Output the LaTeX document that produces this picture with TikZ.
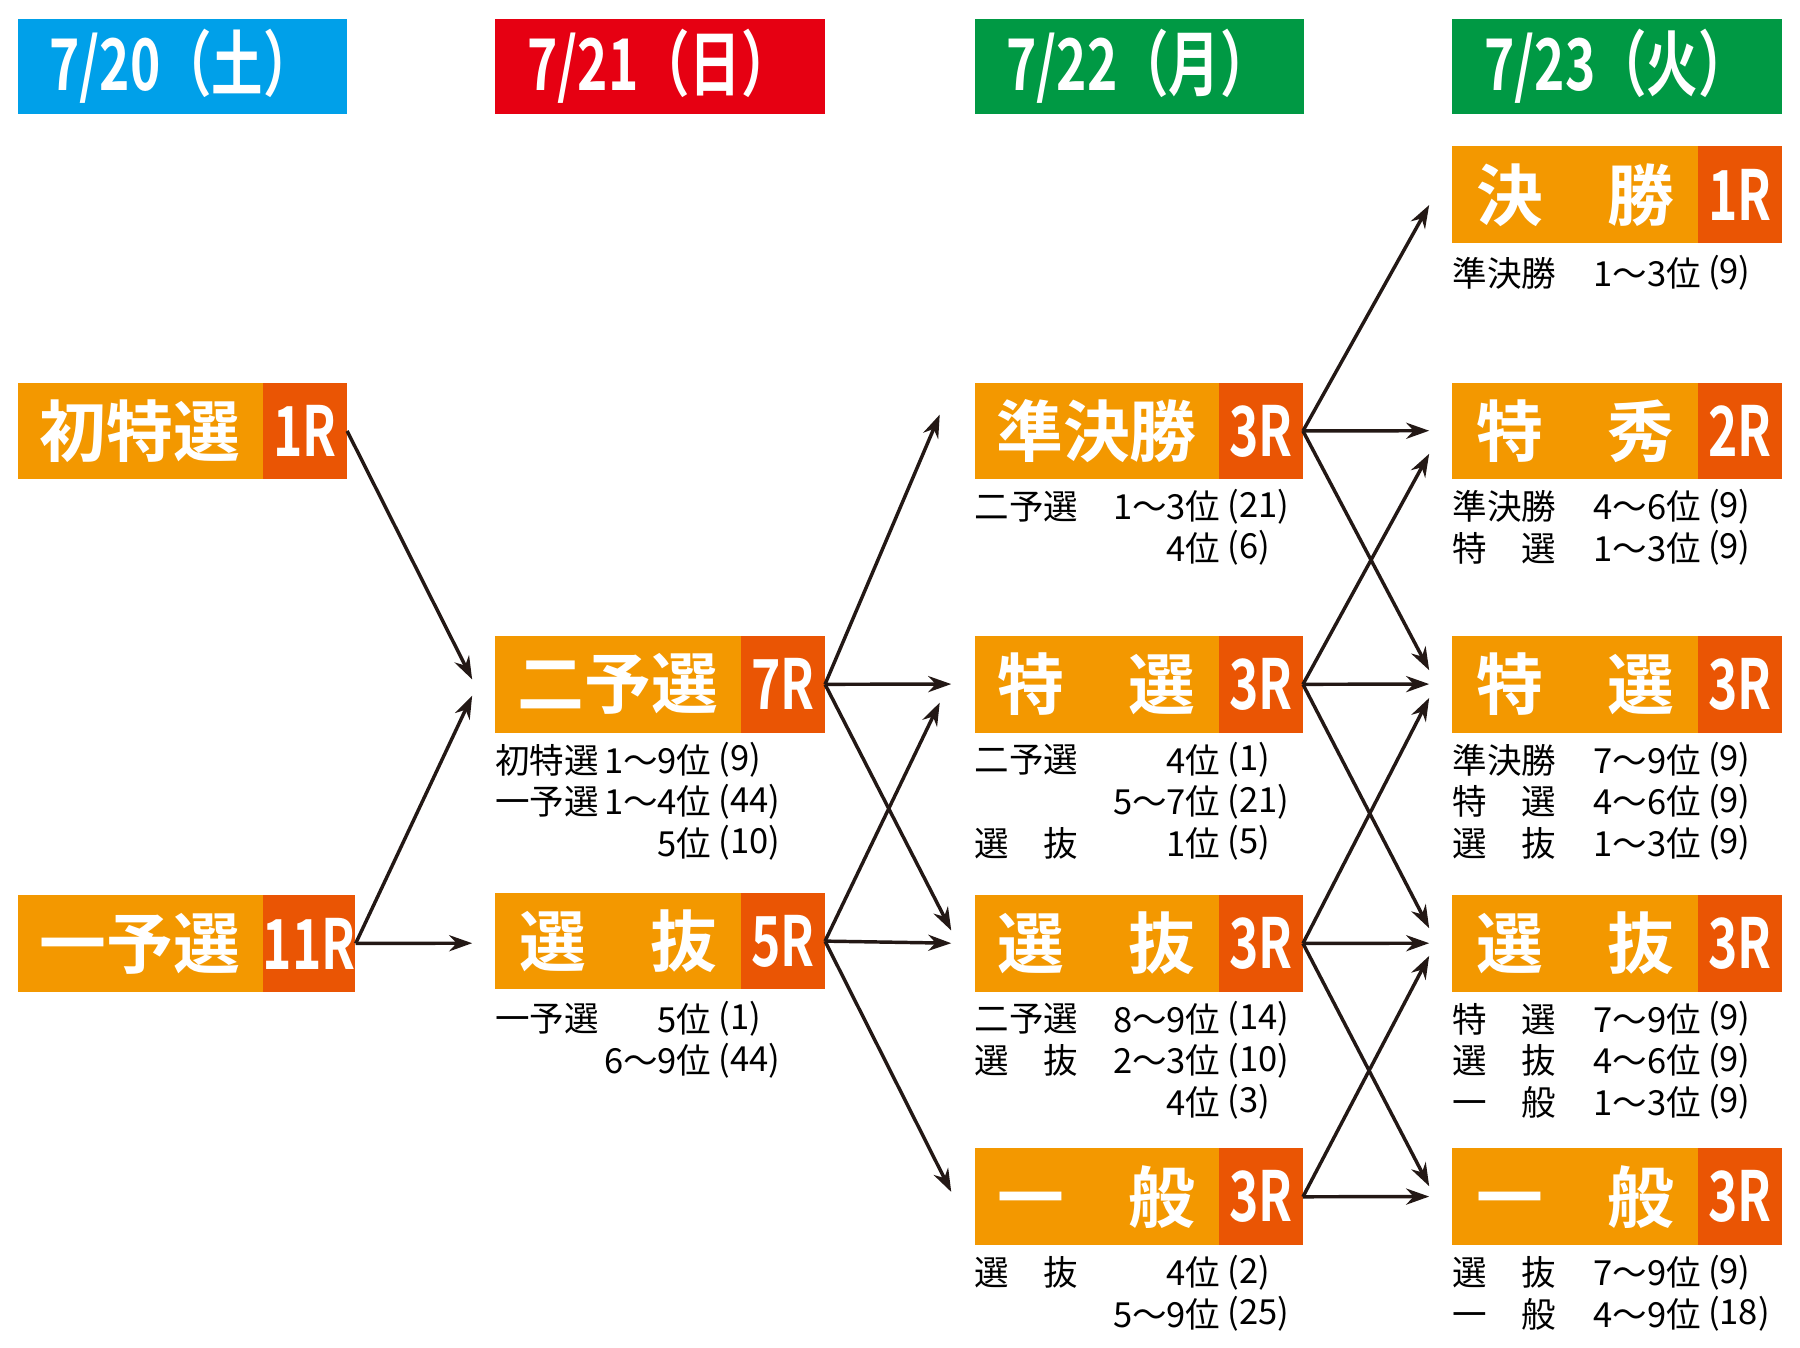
\documentclass[tikz,border=0pt]{standalone}
\usepackage{fontspec}
\usepackage{graphicx}
\usetikzlibrary{arrows.meta}
\setmainfont{Noto Sans CJK JP}
\newfontfamily\cjkb{Noto Sans CJK JP}[BoldFont=* Bold]
\definecolor{hblue}{HTML}{00A0E9}
\definecolor{hred}{HTML}{E60012}
\definecolor{hgreen}{HTML}{009944}
\definecolor{orj}{HTML}{F39800}
\definecolor{dor}{HTML}{EA5504}
\tikzset{
 hdr/.style={anchor=north west,minimum width=286pt,minimum height=83pt,inner sep=0,text=white,font=\cjkb\bfseries\fontsize{62}{62}\selectfont},
 lab/.style={anchor=north west,fill=orj,minimum height=84pt,inner sep=0,text=white,font=\cjkb\bfseries\fontsize{58}{58}\selectfont},
 rr/.style={anchor=north west,fill=dor,minimum width=73pt,minimum height=84pt,inner sep=0,text=white,font=\cjkb\bfseries\fontsize{60}{60}\selectfont},
 sub/.style={inner sep=0,font=\fontsize{30}{30}\selectfont},
 arr/.style={line width=3pt,draw={rgb,255:red,35;green,24;blue,21},-{Stealth[length=20pt,width=14pt]}}
}
% #1 name, #2 x, #3 y, #4 label, #5 R, #6 label width
\newcommand\race[6]{%
 \node[lab,minimum width=#6pt] (#1) at (#2,#3) {#4};
 \node[rr] (#1R) at ([xshift=#6pt]#2,#3) {\scalebox{0.72}[1]{#5}};
}
\newcommand\cond[1]{\scalebox{0.8}[1]{#1}}
% x0, y, rank-right-offset, label, rank, count
\newcommand\subl[6]{%
 \node[sub,anchor=west] at (#1,#2) {#4};
 \node[sub,anchor=east] at ([xshift=#3pt]#1,#2) {#5};
 \node[sub,anchor=west] at ([xshift=#3pt+6pt]#1,#2) {#6};
}
\begin{document}
\begin{tikzpicture}[x=1pt,y=-1pt]
\useasboundingbox (0,0) rectangle (1563,1170);
\node[hdr,fill=hblue] (h1) at (15,16) {\scalebox{0.72}[1]{7/20（土）}};
\node[hdr,fill=hred] (h2) at (430,16) {\scalebox{0.72}[1]{7/21（日）}};
\node[hdr,fill=hgreen] (h3) at (846,16) {\scalebox{0.72}[1]{7/22（月）}};
\node[hdr,fill=hgreen] (h4) at (1261,16) {\scalebox{0.72}[1]{7/23（火）}};

\race{a1}{15}{332}{初特選}{1R}{213}
\race{a2}{15}{777}{一予選}{11R}{213}
\race{b1}{430}{552}{二予選}{7R}{213}
\race{b2}{430}{775}{\makebox[172pt]{選\hfill 抜}}{5R}{213}
\race{c1}{846}{332}{準決勝}{3R}{212}
\race{c2}{846}{552}{\makebox[172pt]{特\hfill 選}}{3R}{212}
\race{c3}{846}{777}{\makebox[172pt]{選\hfill 抜}}{3R}{212}
\race{c4}{846}{997}{\makebox[172pt]{一\hfill 般}}{3R}{212}
\race{d0}{1261}{127}{\makebox[172pt]{決\hfill 勝}}{1R}{213}
\race{d1}{1261}{332}{\makebox[172pt]{特\hfill 秀}}{2R}{213}
\race{d2}{1261}{552}{\makebox[172pt]{特\hfill 選}}{3R}{213}
\race{d3}{1261}{777}{\makebox[172pt]{選\hfill 抜}}{3R}{213}
\race{d4}{1261}{997}{\makebox[172pt]{一\hfill 般}}{3R}{213}

% sub texts
\subl{430}{660}{188}{初特選}{1～9位}{(9)}
\subl{430}{696}{188}{一予選}{1～4位}{(44)}
\subl{430}{732}{188}{}{5位}{(10)}
\subl{430}{885}{188}{一予選}{5位}{(1)}
\subl{430}{921}{188}{}{6～9位}{(44)}

\subl{846}{440}{214}{二予選}{1～3位}{(21)}
\subl{846}{476}{214}{}{4位}{(6)}
\subl{846}{660}{214}{二予選}{4位}{(1)}
\subl{846}{696}{214}{}{5～7位}{(21)}
\subl{846}{732}{214}{選\hspace{30pt}抜}{1位}{(5)}
\subl{846}{885}{214}{二予選}{8～9位}{(14)}
\subl{846}{921}{214}{選\hspace{30pt}抜}{2～3位}{(10)}
\subl{846}{957}{214}{}{4位}{(3)}
\subl{846}{1105}{214}{選\hspace{30pt}抜}{4位}{(2)}
\subl{846}{1141}{214}{}{5～9位}{(25)}

\subl{1261}{237}{216}{準決勝}{1～3位}{(9)}
\subl{1261}{440}{216}{準決勝}{4～6位}{(9)}
\subl{1261}{476}{216}{特\hspace{30pt}選}{1～3位}{(9)}
\subl{1261}{660}{216}{準決勝}{7～9位}{(9)}
\subl{1261}{696}{216}{特\hspace{30pt}選}{4～6位}{(9)}
\subl{1261}{732}{216}{選\hspace{30pt}抜}{1～3位}{(9)}
\subl{1261}{885}{216}{特\hspace{30pt}選}{7～9位}{(9)}
\subl{1261}{921}{216}{選\hspace{30pt}抜}{4～6位}{(9)}
\subl{1261}{957}{216}{一\hspace{30pt}般}{1～3位}{(9)}
\subl{1261}{1105}{216}{選\hspace{30pt}抜}{7～9位}{(9)}
\subl{1261}{1141}{216}{一\hspace{30pt}般}{4～9位}{(18)}

% arrow targets
\coordinate (tb1a) at (410,590);
\coordinate (tb1b) at (410,604);
\coordinate (tb2) at (410,819);
\coordinate (tc1) at (816,360);
\coordinate (tc2a) at (826,594);
\coordinate (tc2b) at (816,610);
\coordinate (tc3a) at (826,808);
\coordinate (tc3b) at (826,819);
\coordinate (tc4) at (826,1035);
\coordinate (td0) at (1241,178);
\coordinate (td1a) at (1241,374);
\coordinate (td1b) at (1241,394);
\coordinate (td2a) at (1241,582);
\coordinate (td2b) at (1241,594);
\coordinate (td2c) at (1241,606);
\coordinate (td3a) at (1241,806);
\coordinate (td3b) at (1241,819);
\coordinate (td3c) at (1241,830);
\coordinate (td4a) at (1241,1030);
\coordinate (td4b) at (1241,1039);

\draw[arr] (a1R.east) -- (tb1a);
\draw[arr] (a2R.east) -- (tb1b);
\draw[arr] (a2R.east) -- (tb2);
\draw[arr] (b1R.east) -- (tc1);
\draw[arr] (b1R.east) -- (tc2a);
\draw[arr] (b1R.east) -- (tc3a);
\draw[arr] (b2R.east) -- (tc2b);
\draw[arr] (b2R.east) -- (tc3b);
\draw[arr] (b2R.east) -- (tc4);
\draw[arr] (c1R.east) -- (td0);
\draw[arr] (c1R.east) -- (td1a);
\draw[arr] (c1R.east) -- (td2a);
\draw[arr] (c2R.east) -- (td1b);
\draw[arr] (c2R.east) -- (td2b);
\draw[arr] (c2R.east) -- (td3a);
\draw[arr] (c3R.east) -- (td2c);
\draw[arr] (c3R.east) -- (td3b);
\draw[arr] (c3R.east) -- (td4a);
\draw[arr] (c4R.east) -- (td3c);
\draw[arr] (c4R.east) -- (td4b);
\end{tikzpicture}
\end{document}
